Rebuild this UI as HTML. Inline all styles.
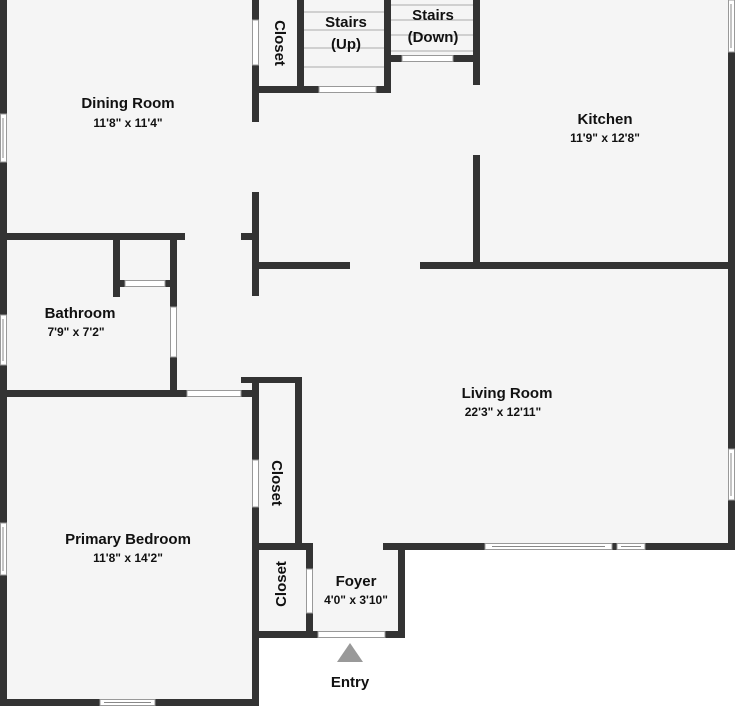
<!DOCTYPE html>
<html><head><meta charset="utf-8"><style>
html,body{margin:0;padding:0;background:#fff;}
svg{display:block;}
text{font-family:"Liberation Sans",sans-serif;fill:#111;text-anchor:middle;}
.n{font-size:15px;font-weight:bold;}
.d{font-size:12px;font-weight:bold;}
</style></head><body>
<svg width="735" height="720" viewBox="0 0 735 720" xmlns="http://www.w3.org/2000/svg">
<polygon points="0,0 735,0 735,550 405,550 405,638 259,638 259,706 0,706" fill="#f5f5f5"/>
<g fill="#333">
<!-- outer -->
<rect x="0" y="0" width="7" height="706"/>
<rect x="0" y="699" width="259" height="7"/>
<rect x="728" y="52" width="7" height="498"/>
<rect x="383" y="543" width="352" height="7"/>
<rect x="398" y="543" width="7" height="95"/>
<rect x="252" y="631" width="153" height="7"/>
<!-- dining/bath -->
<rect x="0" y="233" width="185" height="7"/>
<rect x="170" y="233" width="7" height="164"/>
<rect x="113" y="233" width="7" height="64"/>
<rect x="113" y="280" width="64" height="7"/>
<rect x="0" y="390" width="258" height="7"/>
<!-- bedroom right -->
<rect x="252" y="377" width="7" height="329"/>
<rect x="241" y="377" width="11" height="6"/>
<rect x="252" y="377" width="50" height="6"/>
<rect x="295" y="377" width="7" height="173"/>
<rect x="252" y="543" width="61" height="7"/>
<rect x="306" y="543" width="7" height="95"/>
<!-- top middle -->
<rect x="252" y="0" width="7" height="122"/>
<rect x="252" y="192" width="7" height="104"/>
<rect x="241" y="233" width="11" height="7"/>
<rect x="255" y="262" width="95" height="7"/>
<rect x="420" y="262" width="315" height="7"/>
<rect x="473" y="155" width="7" height="114"/>
<rect x="297" y="0" width="7" height="93"/>
<rect x="384" y="0" width="7" height="93"/>
<rect x="255" y="86" width="136" height="7"/>
<rect x="391" y="55" width="89" height="7"/>
<rect x="473" y="0" width="7" height="85"/>
</g>
<!-- windows/openings -->
<g fill="#fff" stroke="#999" stroke-width="1">
<rect x="252.5" y="20" width="6" height="45"/>
<rect x="319" y="86.5" width="57" height="6"/>
<rect x="402" y="55.5" width="51" height="6"/>
<rect x="125" y="280.5" width="40" height="6"/>
<rect x="170.5" y="307" width="6" height="50"/>
<rect x="187" y="390.5" width="54" height="6"/>
<rect x="252.5" y="460" width="6" height="47"/>
<rect x="306.5" y="569" width="6" height="44"/>
<rect x="318" y="631.5" width="67" height="6"/>
<rect x="0.5" y="114" width="6" height="48"/>
<rect x="0.5" y="315" width="6" height="50"/>
<rect x="0.5" y="523" width="6" height="52"/>
<rect x="100" y="699.5" width="55" height="6"/>
<rect x="728.5" y="0" width="6" height="52"/>
<rect x="728.5" y="449" width="6" height="51"/>
<rect x="485" y="543.5" width="127" height="6"/>
<rect x="617" y="543.5" width="28" height="6"/>
</g>
<g stroke="#888" stroke-width="1">
<line x1="3" y1="118" x2="3" y2="158"/><line x1="3" y1="319" x2="3" y2="361"/><line x1="3" y1="527" x2="3" y2="571"/>
<line x1="104" y1="702.5" x2="151" y2="702.5"/><line x1="731" y1="453" x2="731" y2="496"/><line x1="731" y1="4" x2="731" y2="48"/>
<line x1="492" y1="546.5" x2="605" y2="546.5"/><line x1="621" y1="546.5" x2="641" y2="546.5"/>
</g>
<g stroke="#aaa" stroke-width="1">
<line x1="304" y1="12" x2="384" y2="12"/><line x1="304" y1="30" x2="384" y2="30"/><line x1="304" y1="48" x2="384" y2="48"/><line x1="304" y1="67" x2="384" y2="67"/>
<line x1="391" y1="5" x2="473" y2="5"/><line x1="391" y1="20" x2="473" y2="20"/><line x1="391" y1="35" x2="473" y2="35"/><line x1="391" y1="51" x2="473" y2="51"/>
</g>
<polygon points="350,643 363,662 337,662" fill="#999"/>
<g>
<text class="n" x="128" y="108">Dining Room</text><text class="d" x="128" y="127">11'8" x 11'4"</text>
<text class="n" x="605" y="124">Kitchen</text><text class="d" x="605" y="142">11'9" x 12'8"</text>
<text class="n" x="80" y="318">Bathroom</text><text class="d" x="76" y="336">7'9" x 7'2"</text>
<text class="n" x="507" y="398">Living Room</text><text class="d" x="503" y="416">22'3" x 12'11"</text>
<text class="n" x="128" y="544">Primary Bedroom</text><text class="d" x="128" y="562">11'8" x 14'2"</text>
<text class="n" x="356" y="586">Foyer</text><text class="d" x="356" y="604">4'0" x 3'10"</text>
<text class="n" x="350" y="687">Entry</text>
<text class="n" x="346" y="27">Stairs</text><text class="n" x="346" y="49">(Up)</text>
<text class="n" x="433" y="20">Stairs</text><text class="n" x="433" y="42">(Down)</text>
<text class="n" transform="translate(275,43) rotate(90)">Closet</text>
<text class="n" transform="translate(272,483) rotate(90)">Closet</text>
<text class="n" transform="translate(286,584) rotate(-90)">Closet</text>
</g>
</svg>
</body></html>
